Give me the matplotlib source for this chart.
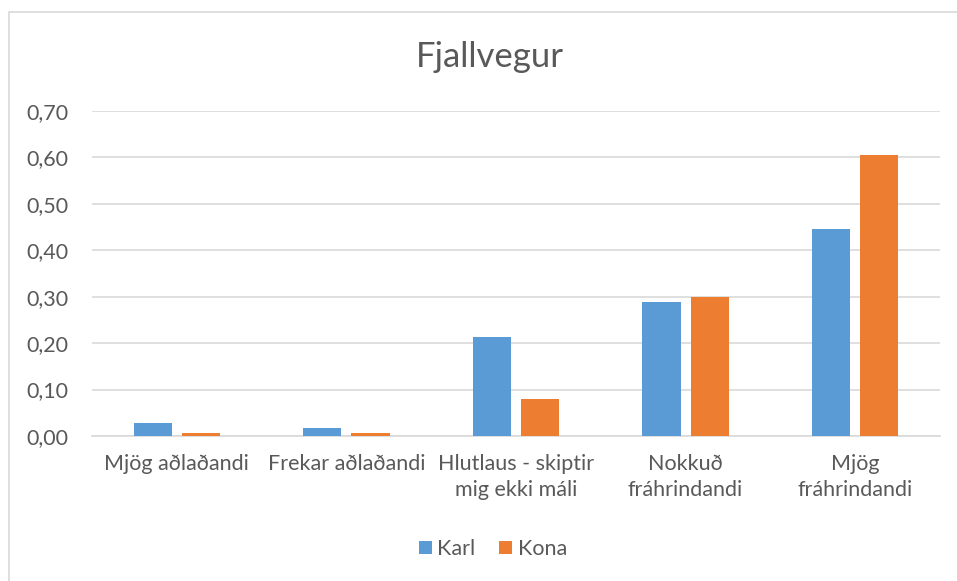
import matplotlib.pyplot as plt
import numpy as np
from matplotlib.patches import Rectangle
from matplotlib.ticker import FuncFormatter

categories = ["Mjög aðlaðandi", "Frekar aðlaðandi", "Hlutlaus - skiptir\nmig ekki máli",
              "Nokkuð\nfráhrindandi", "Mjög\nfráhrindandi"]
karl = [0.029, 0.018, 0.213, 0.289, 0.446]
kona = [0.006, 0.006, 0.079, 0.300, 0.606]
series_names = ["Karl", "Kona"]
colors = ["#5B9BD5", "#ED7D31"]
text_color = "#595959"

plt.rcParams['font.family'] = ['Lato', 'DejaVu Sans']

fig = plt.figure(figsize=(9.57, 5.81), dpi=100)
W, H = 957, 581
ax = fig.add_axes([92 / W, 1 - 436 / H, (940 - 92) / W, (436 - 111) / H])

# outer chart border (only top/left visible in the crop)
fig.patches.append(Rectangle((9 / W, -0.1), 1.2, 1.1 - 12 / H, transform=fig.transFigure,
                             fill=False, edgecolor="#D9D9D9", linewidth=1.2))

x = np.arange(len(categories))
bw = 0.225
gap = 0.06
ax.bar(x - (bw + gap) / 2, karl, bw, color=colors[0], label=series_names[0], zorder=3)
ax.bar(x + (bw + gap) / 2, kona, bw, color=colors[1], label=series_names[1], zorder=3)

ax.set_xlim(-0.5, len(categories) - 0.5)
ax.set_ylim(0, 0.70)
ax.set_yticks(np.arange(0, 0.71, 0.1))
ax.yaxis.set_major_formatter(FuncFormatter(lambda v, p: f"{v:.2f}".replace(".", ",")))
ax.grid(axis="y", color="#D9D9D9", linewidth=1.2, zorder=0)
for s in ["top", "right", "left"]:
    ax.spines[s].set_visible(False)
ax.spines["bottom"].set_color("#D9D9D9")
ax.spines["bottom"].set_linewidth(1.2)
ax.tick_params(axis="both", length=0, colors=text_color, labelsize=15.5)
ax.tick_params(axis="y", pad=17)
ax.tick_params(axis="x", pad=13)
ax.set_xticks(x)
ax.set_xticklabels(categories, linespacing=1.4)

fig.text(490 / W, 1 - 57 / H, "Fjallvegur", ha="center", va="center",
         fontsize=25, color=text_color)

leg = fig.legend(loc="center", bbox_to_anchor=(493 / W, 1 - 549 / H), ncol=2, frameon=False,
                 fontsize=15.5, handlelength=0.6, handleheight=0.6, handletextpad=0.25,
                 columnspacing=1.1)
for t in leg.get_texts():
    t.set_color(text_color)

plt.savefig("out.png", dpi=100)
